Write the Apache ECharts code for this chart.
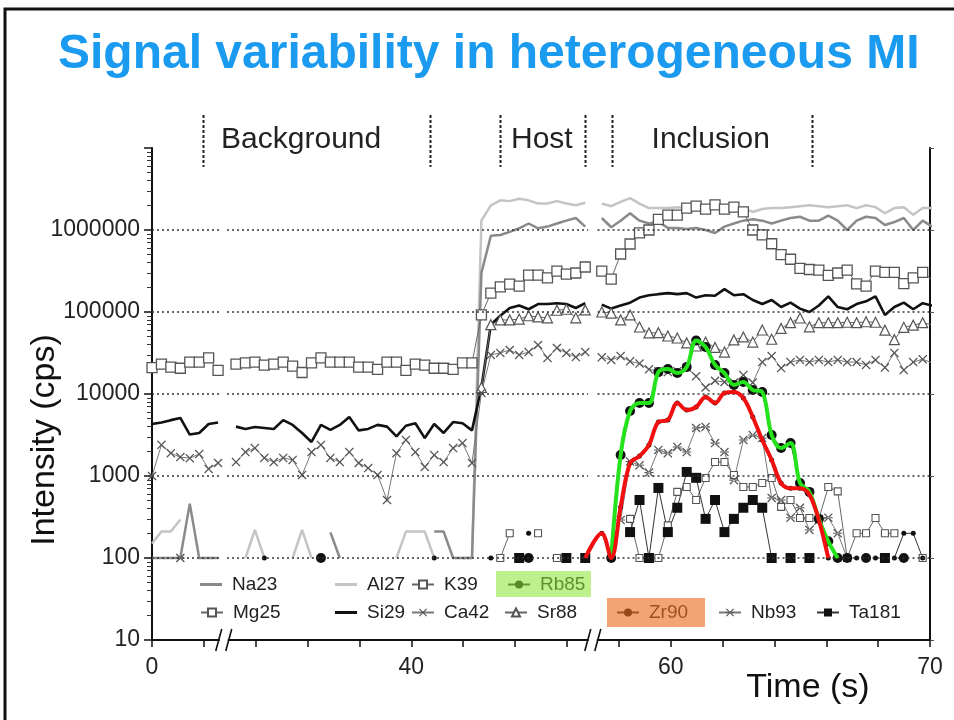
<!DOCTYPE html>
<html>
<head>
<meta charset="utf-8">
<script src="https://cdn.jsdelivr.net/npm/echarts@6/dist/echarts.min.js"></script>
<style>
  html, body { margin: 0; padding: 0; background: #fff; }
  #chart { width: 954px; height: 720px; }
</style>
</head>
<body>
<div id="chart"></div>
<script>
// ---- acquisition layout (x is measured in sweeps) ----
const BLOCK_LEN = [8, 38, 36];          // sweeps in each acquisition block
const BLOCK_START = [0, 8.9, 47.65];    // position of the first sweep of each block
const TICK_STEP = 5.495;                // one time-axis tick, in sweeps
const TICK_COUNT = 15;
const X_MAX = TICK_STEP * TICK_COUNT;
const AXIS_BREAKS = [[7.25, 7.95], [46.2, 47.2]];
const TIME_LABELS = { 0: '0', 5: '40', 10: '60', 15: '70' };
const GRID_VALUES = [100, 1000, 10000, 100000, 1000000];

// phase markers above the plot
const PHASE_BOUNDS = [5.4, 29.45, 36.86, 45.87, 48.73, 69.9];
const PHASES = [
  { name: 'Background', at: 15.8 },
  { name: 'Host', at: 41.3 },
  { name: 'Inclusion', at: 59.2 }
];

// ---- intensities (cps); null = no counts ----
// each series: block 1 (8 sweeps), block 2 (38 sweeps, rows of 10), block 3 (36 sweeps)
const NA23 = [
  100, 100, 100, 100, 460, 100, 100, 100,
  null, null, null, null, null, null, null, null, null, null,
  205, 100, null, null, null, null, null, null, null, null,
  null, 210, 210, 100, 100, 100, 3e5, 8.5e5, 8.7e5, 9.5e5,
  1.05e6, 1.2e6, 1.05e6, 1.1e6, 1.2e6, 1.3e6, 1.4e6, 1.1e6,
  1.4e6, 1.08e6, 1.3e6, 1.6e6, 1.3e6, 1.2e6, 1.25e6, 1.06e6, 1.06e6, 1.03e6, 1.06e6, 1.0e6, 9.2e5, 1.1e6, 1.2e6, 1.3e6, 1.35e6, 1.3e6, 1.2e6, 1.3e6, 1.4e6, 1.45e6, 1.3e6, 1.3e6, 1.5e6, 1.3e6, 1.0e6, 1.3e6, 1.45e6, 1.4e6, 1.15e6, 1.25e6, 1.4e6, 1.0e6, 1.3e6, 1.1e6
];
const AL27 = [
  150, 210, 210, 295, null, null, null, null,
  null, 100, 220, 100, null, null, 100, 220, 100, null,
  null, null, null, null, null, null, null, 100, 210, 210,
  210, 100, null, null, 100, 100, 1.3e6, 2.0e6, 2.3e6, 2.25e6,
  2.4e6, 2.3e6, 2.1e6, 2.1e6, 2.25e6, 2.1e6, 2.0e6, 2.15e6,
  2.1e6, 1.95e6, 2.2e6, 2.45e6, 2.1e6, 1.85e6, 1.85e6, 1.85e6, 1.9e6, 1.85e6, 1.75e6, 1.8e6, 1.85e6, 1.8e6, 1.75e6, 1.85e6, 1.66e6, 1.8e6, 1.85e6, 1.85e6, 1.9e6, 1.95e6, 2.0e6, 1.95e6, 1.9e6, 1.95e6, 2.0e6, 1.85e6, 2.0e6, 1.9e6, 1.6e6, 1.85e6, 1.9e6, 1.53e6, 1.85e6, 1.85e6
];
const K39 = [
  21000, 23200, 21300, 20600, 24500, 24500, 27500, 19400,
  23200, 23900, 24500, 22500, 23200, 24500, 21900, 18300, 23900, 27500,
  24500, 24500, 24500, 21300, 21300, 20000, 24500, 24500, 19400, 23200,
  22500, 20600, 20600, 20000, 23900, 23900, 92000, 170000, 202000, 219000,
  207000, 282000, 282000, 260000, 316000, 290000, 299000, 354000,
  316000, 252000, 510000, 675000, 920000, 1.0e6, 1.35e6, 1.52e6, 1.52e6, 1.85e6, 1.95e6, 1.8e6, 2.02e6, 1.8e6, 1.9e6, 1.66e6, 1.0e6, 870000, 680000, 500000, 440000, 340000, 330000, 325000, 280000, 299000, 325000, 220000, 207000, 316000, 305000, 305000, 222000, 260000, 305000, 245000
];
const RB85 = [
  null, null, null, null, null, null, null, null,
  null, null, null, null, null, null, null, null, null, 100,
  null, null, null, null, null, null, null, null, null, null,
  null, null, null, null, null, null, null, null, null, null,
  null, 100, null, null, null, null, null, null,
  null, 100, 1800, 6200, 7770, 7770, 18500, 20200, 18000, 21300, 45000, 37400, 22600, 18000, 12900, 14000, 11200, 10600, 3160, 2190, 2520, 820, 640, 300, 160, 100, 100, null, 100, null, null, null, 100, null, null, null
];
const MG25 = [
  null, null, null, null, null, null, null, null,
  null, null, null, null, null, null, null, null, null, null,
  null, null, null, null, null, null, null, null, null, null,
  null, null, null, null, null, null, null, null, 100, 200,
  null, null, 200, null, 100, null, null, null,
  null, null, null, 300, 100, 100, 100, 250, 640, 735, 510, 946, 1480, 1480, 1030, 735, 735, 820, 946, 420, 510, 308, 308, 300, 735, 650, 100, 200, 200, 308, 200, 200, null, null, 100, null
];
const SI29 = [
  4300, 4500, 4800, 5100, 3200, 3350, 4300, 4500,
  4000, 3750, 3950, 3850, 3750, 4800, 4200, 3350, 2600, 4200,
  3650, 4200, 5250, 3600, 3750, 4200, 4000, 3050, 4100, 4400,
  2900, 4300, 3350, 4550, 4400, 3600, 12000, 70000, 90000, 112000,
  120000, 108000, 125000, 125000, 128000, 125000, 112000, 128000,
  123000, 110000, 120000, 130000, 150000, 160000, 165000, 170000, 165000, 170000, 150000, 160000, 158000, 190000, 160000, 165000, 140000, 125000, 140000, 115000, 130000, 110000, 100000, 120000, 155000, 115000, 108000, 125000, 135000, 155000, 92000, 115000, 130000, 108000, 128000, 120000
];
const CA42 = [
  1000, 2400, 1900, 1700, 1650, 1850, 1220, 1440,
  1480, 1960, 2190, 1660, 1480, 1660, 1570, 1030, 1960, 2390,
  1660, 1480, 1960, 1440, 1250, 1030, 510, 1900, 2750, 1960,
  1290, 1800, 1480, 2190, 2520, 1440, 10300, 30000, 31700, 34400,
  30000, 32500, 39600, 27500, 36400, 31700, 28200, 32500,
  28000, 26000, 29000, 25000, 23500, 20000, 19000, 18500, 19000, 21000, 16500, 12000, 14500, 14000, 13800, 17000, 13800, 24500, 29000, 20700, 24500, 26000, 24500, 26000, 24500, 26000, 24500, 24500, 22600, 26000, 21000, 31700, 19600, 24500, 26500, 24000
];
const SR88 = [
  null, null, null, null, null, null, null, null,
  null, null, null, null, null, null, null, null, null, null,
  null, null, null, null, null, null, null, null, null, null,
  null, null, null, null, null, null, 12000, 70000, 80000, 80000,
  82000, 90000, 87000, 85000, 105000, 108000, 85000, 106000,
  100000, 97000, 80000, 92000, 65600, 55500, 56000, 51000, 48200, 42000, 38500, 43000, 37000, 32500, 45600, 49600, 43000, 60300, 46500, 63000, 74000, 84500, 66000, 74000, 74000, 74000, 75000, 74000, 76000, 75000, 60000, 46000, 65000, 69000, 74000, 70000
];
const ZR90 = [
  null, null, null, null, null, null, null, null,
  null, null, null, 100, null, null, null, null, null, null,
  null, null, null, null, null, null, null, null, null, null,
  null, 100, null, null, null, null, null, 100, null, null,
  null, 200, null, null, null, null, null, 100,
  200, 100, 420, 1440, 1750, 2390, 4560, 4820, 7770, 6380, 6940, 9190, 7770, 10300, 10600, 8930, 5250, 2750, 1570, 820, 710, 710, 590, 290, 100, null, null, 100, null, 100, null, 100, 200, 200, 100, null
];
const NB93 = [
  null, null, null, 100, null, null, null, null,
  null, null, null, null, null, null, null, null, null, null,
  null, null, null, null, null, null, null, null, null, null,
  null, null, null, null, null, null, null, null, null, null,
  null, null, null, null, null, null, null, null,
  null, null, 290, 1500, 1350, 1100, 2080, 1900, 2260, 1960, 3850, 3970, 2520, 1960, 890, 2750, 3160, 2900, 540, 510, 310, 410, 220, 290, 310, 200, 100, null, null, null, null, null, null, null, null, null
];
const TA181 = [
  null, null, null, null, null, null, null, null,
  null, null, null, null, null, null, null, null, null, null,
  null, null, null, null, null, null, null, null, null, null,
  null, null, null, null, null, null, null, null, null, null,
  100, null, null, null, null, 100, null, 100,
  null, null, null, 207, 510, 100, 715, 207, 410, 1120, 950, 300, 510, 207, 300, 410, 510, 410, 100, null, 100, null, 100, null, null, null, null, null, null, null, 100, null, null, null, null, null
];
// smoothed trends drawn over Rb85 and Zr90 (index ranges into the arrays above)
const RB85_TREND = [47, 71];
const ZR90_TREND = [45, 70];

// ---- helpers ----
const sweepX = [];
BLOCK_LEN.forEach((n, b) => { for (let i = 0; i < n; i++) sweepX.push(BLOCK_START[b] + i); });

function toData(vals) {
  const out = [];
  let k = 0;
  BLOCK_LEN.forEach((n, b) => {
    if (b > 0) out.push([BLOCK_START[b] - 0.6, '-']);
    for (let i = 0; i < n; i++, k++) out.push([sweepX[k], vals[k] == null ? '-' : vals[k]]);
  });
  return out;
}
function trendData(vals, range) {
  const out = [];
  for (let k = range[0]; k <= range[1]; k++) out.push([sweepX[k], vals[k] == null ? 100 : vals[k]]);
  return out;
}

const FONT = '"Liberation Sans", Arial, sans-serif';
const CROSS = 'path://M0,1L1,0L5,4L9,0L10,1L6,5L10,9L9,10L5,6L1,10L0,9L4,5Z';
const STAR = 'path://M0,1L1,0L5,4L9,0L10,1L6,5L10,9L9,10L5,6L1,10L0,9L4,5Z M0,4.4L0,5.6L10,5.6L10,4.4Z';

function series(name, vals, o) {
  return Object.assign({
    name, type: 'line', data: toData(vals), connectNulls: false,
    showAllSymbol: true, symbol: 'none', silent: true, animation: false,
    emphasis: { disabled: true },
    lineStyle: { width: 1, color: '#555' }
  }, o);
}

// dotted grid segments, interrupted at the axis breaks
const gridSpans = [[0, AXIS_BREAKS[0][0]], [AXIS_BREAKS[0][1], AXIS_BREAKS[1][0]], [AXIS_BREAKS[1][1], X_MAX]];
const gridLines = [];
GRID_VALUES.forEach(v => gridSpans.forEach(s => gridLines.push([{ coord: [s[0], v] }, { coord: [s[1], v] }])));

const tickValues = [];
for (let i = 0; i <= TICK_COUNT; i++) tickValues.push(i * TICK_STEP);
const labelValues = Object.keys(TIME_LABELS).map(k => Number(k) * TICK_STEP);

const chart = echarts.init(document.getElementById('chart'), null, { renderer: 'canvas' });

// legend entries: name, left, top, plain-line icon colour (null = series symbol)
const legendPos = [
  ['Na23', 200, 575, '#8a8a8a'], ['Al27', 335, 575, '#c4c4c4'], ['K39', 411, 575, null], ['Rb85', 507, 575, null],
  ['Mg25', 200, 603, null], ['Si29', 335, 603, '#111'], ['Ca42', 411, 603, null], ['Sr88', 504, 603, null],
  ['Zr90', 616, 603, null], ['Nb93', 718, 603, null], ['Ta181', 816, 603, null]
];

const option = {
  animation: false,
  backgroundColor: '#fff',
  title: {
    text: 'Signal variability in heterogeneous MI',
    left: 53, top: 26,
    textStyle: { fontFamily: FONT, fontSize: 48, fontWeight: 'bold', color: '#1a9bef' }
  },
  grid: { left: 152, right: 24, top: 148, bottom: 80, containLabel: false },
  legend: legendPos.map(([n, x, y, lineColor]) => ({
    data: [lineColor ? { name: n, icon: 'rect', itemStyle: { color: lineColor } } : n],
    left: x, top: y, itemWidth: 22, itemHeight: lineColor ? 3 : 10, padding: 0,
    selectedMode: false,
    textStyle: { fontFamily: FONT, fontSize: 19, color: '#222', padding: [0, 0, 0, 5] }
  })),
  xAxis: {
    type: 'value', min: 0, max: X_MAX,
    axisLine: { show: true, lineStyle: { color: '#111', width: 2 } },
    axisTick: { show: true, customValues: tickValues, length: 7, inside: false, lineStyle: { color: '#111', width: 1.5 } },
    axisLabel: {
      customValues: labelValues, margin: 16, showMaxLabel: true, showMinLabel: true,
      fontFamily: FONT, fontSize: 23, color: '#222',
      formatter: v => TIME_LABELS[Math.round(v / TICK_STEP)] || ''
    },
    splitLine: { show: false }
  },
  yAxis: [{
    type: 'log', logBase: 10, min: 10, max: 1e7, splitNumber: 6,
    axisLine: { show: true, lineStyle: { color: '#111', width: 2 } },
    axisTick: { show: true, length: 8, lineStyle: { color: '#111', width: 1.5 } },
    minorTick: { show: true, splitNumber: 9, length: 5, lineStyle: { color: '#333', width: 1 } },
    axisLabel: {
      margin: 12, fontFamily: FONT, fontSize: 23, color: '#222',
      formatter: v => (Math.round(v) >= 1e7 ? '' : String(Math.round(v)))
    },
    splitLine: { show: false }
  }, {
    type: 'log', logBase: 10, min: 10, max: 1e7, position: 'right',
    axisLine: { show: true, onZero: false, lineStyle: { color: '#111', width: 2 } },
    axisTick: { show: true, length: 4, lineStyle: { color: '#555', width: 1 } },
    axisLabel: { show: false },
    splitLine: { show: false }
  }],
  series: [
    {
      name: 'grid', type: 'line', data: [], silent: true,
      markLine: {
        silent: true, symbol: ['none', 'none'], animation: false,
        label: { show: false },
        lineStyle: { type: [2, 3], color: '#333', width: 1.5 },
        data: gridLines
      }
    },
    series('Al27', AL27, { lineStyle: { width: 2.5, color: '#c4c4c4' }, itemStyle: { color: '#c4c4c4' } }),
    series('Na23', NA23, { lineStyle: { width: 2.5, color: '#8a8a8a' }, itemStyle: { color: '#8a8a8a' } }),
    series('Si29', SI29, { lineStyle: { width: 2.6, color: '#111' }, itemStyle: { color: '#111' } }),
    series('K39', K39, {
      symbol: 'rect', symbolSize: 10,
      itemStyle: { color: '#fff', borderColor: '#555', borderWidth: 1.3 },
      lineStyle: { width: 1, color: '#666' }
    }),
    series('Sr88', SR88, {
      symbol: 'triangle', symbolSize: 10,
      itemStyle: { color: '#fff', borderColor: '#555', borderWidth: 1.2 },
      lineStyle: { width: 1, color: '#666' }
    }),
    series('Ca42', CA42, {
      symbol: CROSS, symbolSize: 9,
      itemStyle: { color: '#555' },
      lineStyle: { width: 1, color: '#777' }
    }),
    series('Mg25', MG25, {
      symbol: 'rect', symbolSize: 7,
      itemStyle: { color: '#fff', borderColor: '#555', borderWidth: 1.1 },
      lineStyle: { width: 1, color: '#666' }
    }),
    series('Nb93', NB93, {
      symbol: STAR, symbolSize: 9,
      itemStyle: { color: '#555' },
      lineStyle: { width: 1, color: '#777' }
    }),
    series('Ta181', TA181, {
      symbol: 'rect', symbolSize: 10,
      itemStyle: { color: '#111' },
      lineStyle: { width: 1, color: '#333' }
    }),
    series('Zr90', ZR90, {
      symbol: 'circle', symbolSize: 5,
      itemStyle: { color: '#111' },
      lineStyle: { width: 1, color: '#333' }
    }),
    series('Rb85', RB85, {
      symbol: 'circle', symbolSize: 10,
      itemStyle: { color: '#111' },
      lineStyle: { width: 1, color: '#333' }
    }),
    {
      name: 'Rb85 trend', type: 'line', data: trendData(RB85, RB85_TREND),
      smooth: 0.35, symbol: 'none', silent: true, z: 5,
      lineStyle: { width: 4, color: '#24e21b' }
    },
    {
      name: 'Zr90 trend', type: 'line', data: trendData(ZR90, ZR90_TREND),
      smooth: 0.35, symbol: 'none', silent: true, z: 5,
      lineStyle: { width: 4, color: '#f01010' }
    }
  ]
};

chart.setOption(option);

// ---- annotations placed from axis coordinates ----
const px = v => chart.convertToPixel({ xAxisIndex: 0 }, v);
const g = [];

// slide frame
g.push({ type: 'polyline', shape: { points: [[5, 720], [5, 9], [954, 9]] }, style: { stroke: '#111', lineWidth: 3, fill: null }, silent: true });

// phase separators and labels
PHASE_BOUNDS.forEach(b => {
  const x = Math.round(px(b)) + 0.5;
  g.push({ type: 'line', shape: { x1: x, y1: 115, x2: x, y2: 167 }, style: { stroke: '#222', lineWidth: 2, lineDash: [3, 2] }, silent: true });
});
PHASES.forEach(p => {
  g.push({ type: 'text', x: px(p.at), y: 140, style: { text: p.name, fontFamily: FONT, fontSize: 30, fill: '#222', align: 'center', verticalAlign: 'middle' }, silent: true });
});

// axis break marks
AXIS_BREAKS.forEach(br => {
  const cx = px((br[0] + br[1]) / 2);
  g.push({ type: 'rect', shape: { x: cx - 4, y: 634, width: 8, height: 12 }, style: { fill: '#fff' }, z: 20, silent: true });
  g.push({ type: 'line', shape: { x1: cx - 8, y1: 651, x2: cx - 2, y2: 629 }, style: { stroke: '#111', lineWidth: 1.6 }, z: 21, silent: true });
  g.push({ type: 'line', shape: { x1: cx + 2, y1: 651, x2: cx + 8, y2: 629 }, style: { stroke: '#111', lineWidth: 1.6 }, z: 21, silent: true });
});

// axis titles
g.push({ type: 'text', x: 45, y: 440, rotation: Math.PI / 2, style: { text: 'Intensity (cps)', fontFamily: FONT, fontSize: 34, fill: '#111', align: 'center', verticalAlign: 'middle' }, silent: true });
g.push({ type: 'text', x: 808, y: 688, style: { text: 'Time (s)', fontFamily: FONT, fontSize: 34, fill: '#111', align: 'center', verticalAlign: 'middle' }, silent: true });

// highlighter marks over two legend entries
g.push({ type: 'rect', shape: { x: 496, y: 571, width: 95, height: 26 }, style: { fill: 'rgba(140,228,53,0.57)' }, z: 30, silent: true });
g.push({ type: 'rect', shape: { x: 607, y: 598, width: 98, height: 29 }, style: { fill: 'rgba(237,108,27,0.62)' }, z: 30, silent: true });

chart.setOption({ graphic: { elements: g } });
</script>
</body>
</html>
